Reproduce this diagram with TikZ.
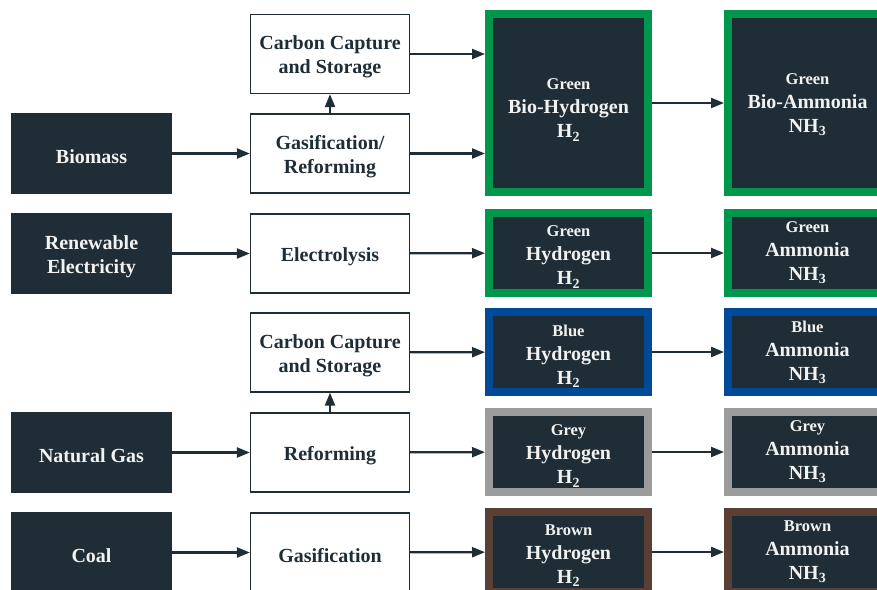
\documentclass[tikz,border=0pt]{standalone}
\usepackage{fontspec}
\setmainfont{Liberation Serif}
\usetikzlibrary{arrows.meta}
\definecolor{ink}{HTML}{1F2E36}
\definecolor{paper}{HTML}{F2F2F0}
\definecolor{gbord}{HTML}{00964B}
\definecolor{bbord}{HTML}{004A98}
\definecolor{ybord}{HTML}{9B9B9B}
\definecolor{nbord}{HTML}{5A4034}
\newcommand{\tag}[1]{{\fontsize{16.5}{18}\selectfont #1}}
\begin{document}
\begin{tikzpicture}[x=1pt,y=-1pt,
  boxtext/.style={align=center, inner sep=0pt, font=\bfseries\fontsize{20}{24}\selectfont},
  srcbox/.style={fill=ink, minimum width=161pt, minimum height=81pt, inner sep=0pt,
    label={[boxtext, text=paper, yshift=-3pt]center:{#1}}},
  procbox/.style={draw=ink, line width=1.3pt, fill=white,
    minimum width=159pt, minimum height=79pt, inner sep=0pt,
    label={[boxtext, text=ink, yshift=-3pt]center:{#1}}},
  prodbox/.style={fill=ink, draw=#1, line width=8pt, outer sep=4pt,
    minimum width=159pt, minimum height=80pt, inner sep=0pt},
  prodtext/.style={boxtext, text=paper},
  arr/.style={draw=ink, line width=2.2pt, -{Triangle[length=13pt,width=10pt]}}]
\useasboundingbox (0,0) rectangle (877,589);
\fill[white] (0,0) rectangle (877,589);

% feedstocks
\node[srcbox={Biomass}] (bio) at (91.5,153.5) {};
\node[srcbox={Renewable\\Electricity}] (ren) at (91.5,253.5) {};
\node[srcbox={Natural Gas}] (gas) at (91.5,452.5) {};
\node[srcbox={Coal}] (coal) at (91.5,552.5) {};

% processes
\node[procbox={Carbon Capture\\and Storage}] (ccsa) at (330,54) {};
\node[procbox={Gasification/\\Reforming}] (gref) at (330,153.5) {};
\node[procbox={Electrolysis}] (elec) at (330,253.5) {};
\node[procbox={Carbon Capture\\and Storage}] (ccsb) at (330,352.5) {};
\node[procbox={Reforming}] (refo) at (330,452.5) {};
\node[procbox={Gasification}] (gasi) at (330,552.5) {};

% hydrogen products
\node[prodbox=gbord, minimum height=178pt, label={[prodtext,yshift=-7pt]center:{\tag{Green}\\Bio-Hydrogen\\H\textsubscript{2}}}] (h1) at (568.5,103) {};
\node[prodbox=gbord, label={[prodtext,yshift=-4pt]center:{\tag{Green}\\Hydrogen\\H\textsubscript{2}}}] (h2) at (568.5,253) {};
\node[prodbox=bbord, label={[prodtext,yshift=-4pt]center:{\tag{Blue}\\Hydrogen\\H\textsubscript{2}}}] (h3) at (568.5,352) {};
\node[prodbox=ybord, label={[prodtext,yshift=-4pt]center:{\tag{Grey}\\Hydrogen\\H\textsubscript{2}}}] (h4) at (568.5,452) {};
\node[prodbox=nbord, label={[prodtext,yshift=-4pt]center:{\tag{Brown}\\Hydrogen\\H\textsubscript{2}}}] (h5) at (568.5,552) {};

% ammonia products
\node[prodbox=gbord, minimum height=178pt, label={[prodtext,yshift=-2pt]center:{\tag{Green}\\Bio-Ammonia\\NH\textsubscript{3}}}] (a1) at (807.5,103) {};
\node[prodbox=gbord, label={[prodtext]center:{\tag{Green}\\Ammonia\\NH\textsubscript{3}}}] (a2) at (807.5,253) {};
\node[prodbox=bbord, label={[prodtext]center:{\tag{Blue}\\Ammonia\\NH\textsubscript{3}}}] (a3) at (807.5,352) {};
\node[prodbox=ybord, label={[prodtext]center:{\tag{Grey}\\Ammonia\\NH\textsubscript{3}}}] (a4) at (807.5,452) {};
\node[prodbox=nbord, label={[prodtext]center:{\tag{Brown}\\Ammonia\\NH\textsubscript{3}}}] (a5) at (807.5,552) {};

% feedstock to process
\draw[arr] (bio) -- (gref);
\draw[arr] (ren) -- (elec);
\draw[arr] (gas) -- (refo);
\draw[arr] (coal) -- (gasi);

% capture branches
\draw[arr] (gref) -- (ccsa);
\draw[arr] (refo) -- (ccsb);

% process to hydrogen
\draw[arr] (ccsa.east) -- (ccsa.east -| h1.west);
\draw[arr] (gref.east) -- (gref.east -| h1.west);
\draw[arr] (elec) -- (h2);
\draw[arr] (ccsb) -- (h3);
\draw[arr] (refo) -- (h4);
\draw[arr] (gasi) -- (h5);

% hydrogen to ammonia
\draw[arr] (h1) -- (a1);
\draw[arr] (h2) -- (a2);
\draw[arr] (h3) -- (a3);
\draw[arr] (h4) -- (a4);
\draw[arr] (h5) -- (a5);
\end{tikzpicture}
\end{document}
